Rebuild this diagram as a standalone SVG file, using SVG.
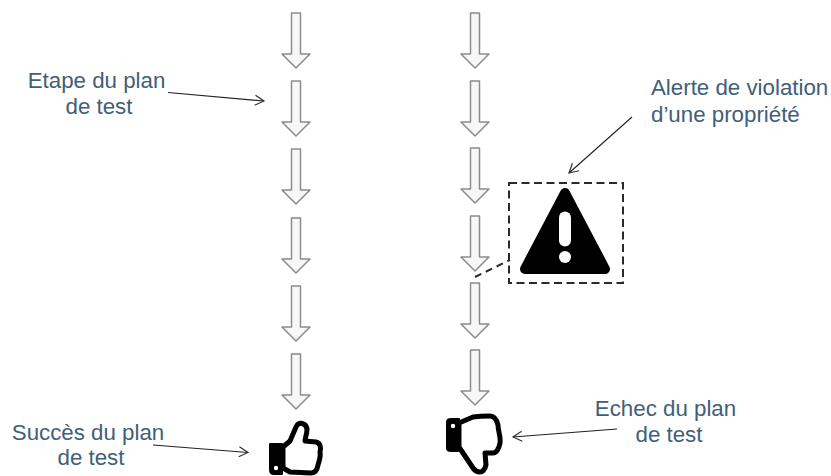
<svg xmlns="http://www.w3.org/2000/svg" width="831" height="476" viewBox="0 0 831 476">
<style>
.t{font-family:"Liberation Sans",Arial,sans-serif;font-size:22.3px;fill:#3f6078}
.m{text-anchor:middle}
.step{fill:#f7f7f7;stroke:#8c8c8c;stroke-width:1.5;stroke-linejoin:round}
.ln{fill:none;stroke:#222;stroke-width:1.2}
.dash{fill:none;stroke:#2a2a2a;stroke-width:2;stroke-dasharray:8 4.500}
.thumb{fill:#fff;stroke:#000;stroke-width:5;stroke-linejoin:round}
.cuff{fill:#000;stroke:#000;stroke-width:2;stroke-linejoin:round}
</style>
<defs>
<path id="a" d="M-4.500 0H4.500V41H14L0 55L-14 41H-4.500Z"/>
<marker id="m" markerWidth="12" markerHeight="12" refX="10" refY="6" orient="auto" markerUnits="userSpaceOnUse"><path d="M1 1L10 6L1 11" fill="none" stroke="#333" stroke-width="1.2"/></marker>
</defs>
<g id="connectors">
<path class="ln" d="M168 92.500L264 101" marker-end="url(#m)"/>
<path class="ln" d="M632 117L569 173" marker-end="url(#m)"/>
<path class="ln" d="M153 445L248 452.500" marker-end="url(#m)"/>
<path class="ln" d="M617 429L513 437" marker-end="url(#m)"/>
<path class="dash" d="M475 277L510 260" style="stroke-dasharray:7 5"/>
</g>
<g id="left-steps">
<use href="#a" class="step" x="296" y="13"/>
<use href="#a" class="step" x="296" y="81"/>
<use href="#a" class="step" x="296" y="149"/>
<use href="#a" class="step" x="296" y="218"/>
<use href="#a" class="step" x="296" y="286"/>
<use href="#a" class="step" x="296" y="354"/>
</g>
<g id="right-steps">
<use href="#a" class="step" x="475" y="13"/>
<use href="#a" class="step" x="475" y="81"/>
<use href="#a" class="step" x="475" y="148"/>
<use href="#a" class="step" x="475" y="216"/>
<use href="#a" class="step" x="475" y="283"/>
<use href="#a" class="step" x="475" y="350"/>
</g>
<g id="alert">
<rect class="dash" x="509" y="183" width="114" height="100"/>
<path d="M565 193L605 269H525Z" fill="#000" stroke="#000" stroke-width="10" stroke-linejoin="round"/>
<rect x="559" y="211.500" width="12" height="35" rx="6" fill="#fff"/>
<circle cx="565" cy="257" r="6" fill="#fff"/>
</g>
<g id="thumb-up">
<path class="thumb" d="M283 447L290 441L296 427C299 421 306 423 307 429C307 434 305 438 305 441L316 442C321 443 321 449 320 452C321 457 319 461 318 465C317 471 314 473 311 473L290 472L283 468Z"/>
<path class="cuff" d="M270 444H282V474H274C271 474 270 472 270 470Z"/>
<circle cx="276" cy="468" r="2.200" fill="#fff"/>
</g>
<g id="thumb-down">
<path class="thumb" d="M459 423L473 417C480 416 485 416 490 416C495 416 497 421 498 425C498 431 501 437 500 443C499 449 496 453 493 453L485 453L486 465C485 470 482 472 480 472C477 472 475 471 473 468L459 447Z"/>
<path class="cuff" d="M447 422C447 420 449 419 451 419H459V451H451C449 451 447 450 447 448Z"/>
<circle cx="453" cy="426" r="2.200" fill="#fff"/>
</g>
<g id="label-step"><text class="t m" x="96.500" y="88">Etape du plan</text><text class="t m" x="99" y="114">de test</text></g>
<g id="label-alert"><text class="t" x="651" y="95">Alerte de violation</text><text class="t" x="651" y="122">d’une propriété</text></g>
<g id="label-success"><text class="t m" x="88" y="440">Succès du plan</text><text class="t m" x="91" y="465">de test</text></g>
<g id="label-fail"><text class="t m" x="665.500" y="416">Echec du plan</text><text class="t m" x="669" y="442">de test</text></g>
</svg>
